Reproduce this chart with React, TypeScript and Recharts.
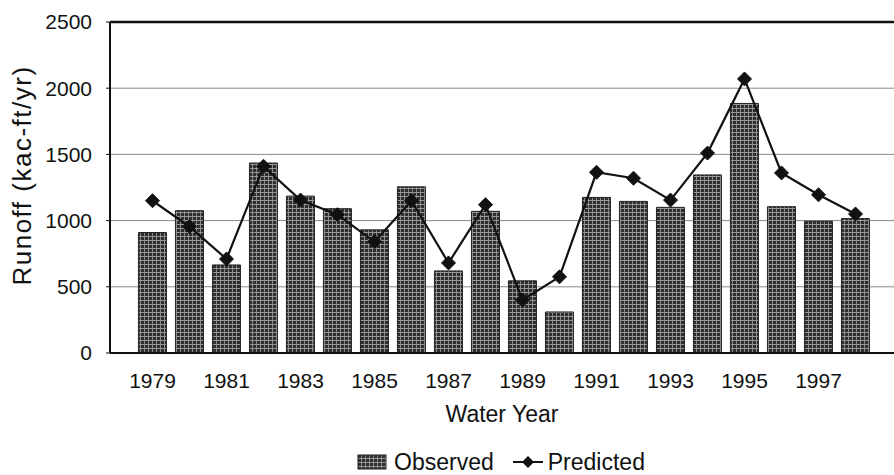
import React from 'react';
import {
  ComposedChart,
  Bar,
  Line,
  XAxis,
  YAxis,
  CartesianGrid,
  ReferenceLine,
  Legend
} from 'recharts';

const years = [
  '1979', '1980', '1981', '1982', '1983', '1984', '1985', '1986', '1987', '1988',
  '1989', '1990', '1991', '1992', '1993', '1994', '1995', '1996', '1997', '1998'
];
const observed = [910, 1075, 665, 1435, 1185, 1090, 930, 1255, 620, 1070, 545, 310, 1175, 1145, 1100, 1345, 1885, 1105, 995, 1015];
const predicted = [1150, 955, 710, 1410, 1155, 1045, 840, 1150, 680, 1120, 400, 575, 1365, 1320, 1155, 1510, 2070, 1360, 1195, 1050];
const yTicks = [0, 500, 1000, 1500, 2000, 2500];

const data = years.map((year, i) => ({ year, observed: observed[i], predicted: predicted[i] }));

const FONT = '"Liberation Sans", Arial, sans-serif';

const Diamond = (props: any) => {
  const { cx, cy } = props;
  if (cx == null || cy == null) return null;
  const r = 7;
  return (
    <path
      d={`M${cx},${cy - r} L${cx + r},${cy} L${cx},${cy + r} L${cx - r},${cy} Z`}
      fill="#111"
      stroke="#111"
    />
  );
};

const LegendContent = () => (
  <div style={{ display: 'flex', justifyContent: 'center', alignItems: 'center', fontFamily: FONT, fontSize: 23, color: '#111', paddingTop: 25, paddingLeft: 108, lineHeight: '24px' }}>
    <svg width={30} height={16} style={{ marginRight: 7 }}>
      <rect x={1} y={1} width={28} height={14} fill="url(#hatch)" stroke="#222" strokeWidth={1} />
    </svg>
    <span style={{ marginRight: 18 }}>Observed</span>
    <svg width={32} height={16} style={{ marginRight: 4 }}>
      <line x1={1} y1={8} x2={31} y2={8} stroke="#111" strokeWidth={2} />
      <path d="M16,2 L22,8 L16,14 L10,8 Z" fill="#111" />
    </svg>
    <span>Predicted</span>
  </div>
);

export default function App() {
  return (
    <div style={{ position: 'absolute', left: 0, top: 0, width: 894, height: 475, background: '#fff' }}>
      <style>{`body{margin:0}`}</style>
      <ComposedChart
        width={894}
        height={475}
        data={data}
        margin={{ top: 22, right: 0, left: 0, bottom: 0 }}
        barCategoryGap="12%"
      >
        <defs>
          <pattern id="hatch" width={4} height={4} patternUnits="userSpaceOnUse">
            <rect width={4} height={4} fill="#2e2e2e" />
            <line x1={0} y1={0.5} x2={4} y2={0.5} stroke="#b0b0b0" strokeWidth={0.8} />
            <line x1={0.5} y1={0} x2={0.5} y2={4} stroke="#a0a0a0" strokeWidth={0.8} />
          </pattern>
        </defs>
        <CartesianGrid vertical={false} stroke="#8a8a8a" strokeWidth={1} />
        <XAxis
          dataKey="year"
          interval={1}
          tickLine={false}
          axisLine={{ stroke: '#111', strokeWidth: 2 }}
          padding={{ left: 24, right: 20 }}
          tick={{ fontSize: 21, fill: '#111', fontFamily: FONT }}
          tickMargin={14}
          height={72}
          label={{ value: 'Water Year', position: 'insideBottom', offset: 3, fontSize: 23, fill: '#111', fontFamily: FONT }}
        />
        <YAxis
          domain={[0, 2500]}
          ticks={yTicks}
          width={110}
          tickSize={4}
          tickMargin={14}
          axisLine={{ stroke: '#111', strokeWidth: 2 }}
          tickLine={{ stroke: '#111' }}
          tick={{ fontSize: 21, fill: '#111', fontFamily: FONT }}
          label={{ value: 'Runoff (kac-ft/yr)', angle: -90, position: 'insideLeft', offset: 20, dx: 2, dy: -12, fontSize: 26, fill: '#111', fontFamily: FONT, style: { textAnchor: 'middle', letterSpacing: 1.5 } }}
        />
        <ReferenceLine y={2500} stroke="#111" strokeWidth={2.5} />
        <Legend verticalAlign="bottom" height={50} content={<LegendContent />} />
        <Bar dataKey="observed" name="Observed" fill="url(#hatch)" stroke="#222" strokeWidth={1} isAnimationActive={false} />
        <Line
          dataKey="predicted"
          name="Predicted"
          stroke="#111"
          strokeWidth={2.2}
          dot={<Diamond />}
          activeDot={false}
          isAnimationActive={false}
        />
      </ComposedChart>
    </div>
  );
}
